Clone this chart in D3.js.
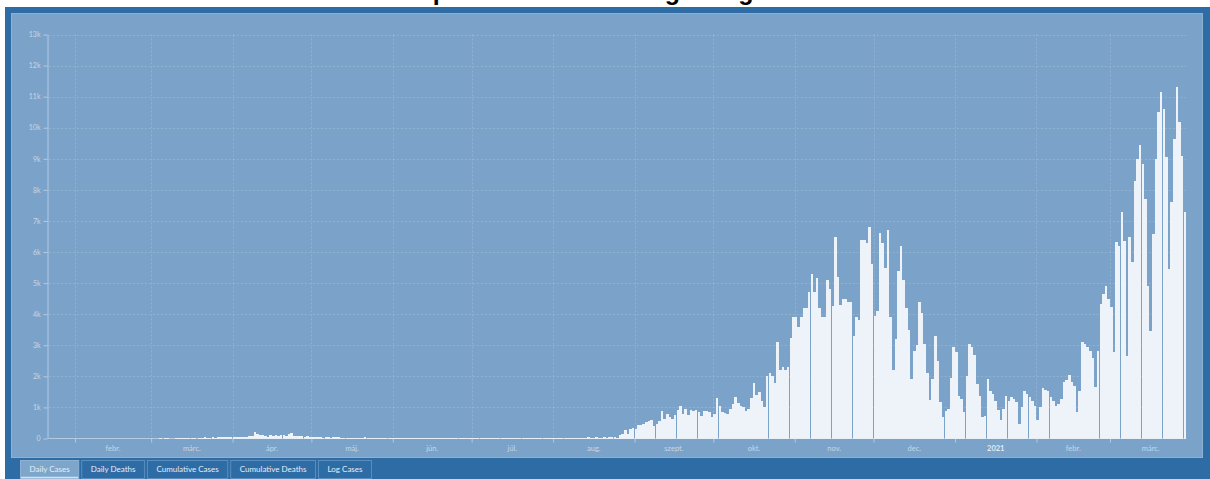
<!DOCTYPE html>
<html>
<head>
<meta charset="utf-8">
<script src="https://cdnjs.cloudflare.com/ajax/libs/d3/7.8.5/d3.min.js"></script>
<style>
body { margin: 0; background: #fff; overflow: hidden; }
</style>
</head>
<body>
<div id="chart"></div>
<script>
// daily new cases, one array per month (2020-01-22 .. 2021-03-29)
var cases2020Jan = [0, 0, 0, 0, 0, 0, 0, 0, 0, 0];
var cases2020Feb = [0, 0, 0, 0, 0, 0, 0, 0, 0, 0, 0, 0, 0, 0, 0, 0, 0, 0, 0, 0, 0, 0, 0, 0, 0, 0, 0, 0, 0];
var cases2020Mar = [0, 0, 0, 2, 0, 5, 2, 0, 0, 3, 1, 3, 6, 13, 2, 7, 11, 0, 11, 8, 35, 18, 12, 36, 20, 39, 35, 40, 43, 34, 45];
var cases2020Apr = [45, 55, 60, 45, 52, 40, 70, 75, 210, 160, 100, 110, 70, 60, 100, 75, 120, 90, 110, 105, 95, 140, 180, 95, 70, 75, 80, 60, 65, 55];
var cases2020May = [50, 40, 35, 45, 30, 40, 35, 30, 40, 35, 38, 25, 30, 22, 27, 30, 24, 28, 20, 26, 40, 24, 23, 22, 18, 15, 20, 18, 12, 15, 10];
var cases2020Jun = [8, 12, 6, 15, 10, 4, 5, 8, 10, 12, 7, 3, 6, 10, 5, 8, 9, 4, 3, 11, 6, 8, 10, 12, 5, 3, 4, 7, 6, 5];
var cases2020Jul = [4, 6, 10, 3, 8, 12, 14, 5, 10, 8, 6, 15, 18, 9, 12, 20, 8, 6, 10, 14, 13, 22, 9, 11, 14, 25, 17, 12, 10, 16, 18];
var cases2020Aug = [20, 14, 12, 25, 18, 22, 16, 30, 15, 26, 32, 20, 28, 35, 22, 18, 40, 30, 30, 45, 20, 35, 60, 50, 25, 100, 160, 270, 150, 290, 350];
var cases2020Sep = [300, 450, 440, 480, 520, 550, 580, 400, 480, 550, 900, 620, 780, 700, 620, 750, 920, 1040, 800, 950, 750, 920, 900, 930, 850, 720, 880, 900, 850, 700];
var cases2020Oct = [800, 1300, 1050, 850, 820, 780, 950, 1100, 1350, 1150, 1050, 1000, 900, 960, 1300, 1800, 1400, 1500, 1200, 1000, 2000, 2100, 2000, 1800, 3100, 2200, 2300, 2200, 2300, 3250, 3900];
var cases2020Nov = [3900, 3600, 3900, 4200, 4200, 4700, 5300, 4700, 5150, 4200, 3900, 3900, 5100, 4800, 4250, 6500, 5200, 4300, 4500, 4500, 4400, 4400, 3300, 3900, 3800, 6400, 6400, 6300, 6800, 5600];
var cases2020Dec = [3950, 4100, 6600, 6300, 5500, 6700, 3900, 2200, 3200, 5400, 6200, 5100, 4200, 3500, 1900, 2800, 3000, 4400, 4050, 3050, 2100, 1240, 1900, 3300, 2500, 1170, 690, 900, 950, 1950, 2960];
var cases2021Jan = [2780, 1380, 1270, 850, 2000, 3050, 2940, 2700, 1760, 1380, 690, 740, 1900, 1540, 1440, 1220, 920, 580, 950, 1380, 1220, 1330, 1280, 1170, 470, 1000, 1540, 1440, 1330, 1220, 1060];
var cases2021Feb = [580, 1000, 1630, 1570, 1520, 1350, 1220, 1060, 1100, 1280, 1810, 1870, 2030, 1810, 1700, 850, 1540, 3100, 3050, 2940, 2830, 2600, 1650, 2830, 4330, 4650, 4920, 4500];
var cases2021Mar = [4230, 2780, 6320, 6200, 7280, 6370, 2670, 6480, 5670, 8300, 9000, 9430, 8840, 7710, 4920, 3470, 6580, 9000, 10500, 11140, 10600, 9050, 5460, 7600, 9640, 11300, 10180, 9100, 7280];

var monthLabels = ["febr.", "márc.", "ápr.", "máj.", "jún.", "júl.", "aug.", "szept.", "okt.", "nov.", "dec.", "2021", "febr.", "márc."];
var yTicks = [0, 1000, 2000, 3000, 4000, 5000, 6000, 7000, 8000, 9000, 10000, 11000, 12000, 13000];
var tabNames = ["Daily Cases", "Daily Deaths", "Cumulative Cases", "Cumulative Deaths", "Log Cases"];
var title = "Epidemic curve now gaining";

var width = 1210, height = 479;
var svg = d3.select("#chart").append("svg")
	.attr("width", width)
	.attr("height", height);

// (title) only the descenders show above the frame
svg.append("text")
	.attr("x", 416)
	.attr("y", -0.5)
	.attr("font-family", "Liberation Sans, Arial, sans-serif")
	.attr("font-weight", "bold")
	.attr("font-size", "25px")
	.attr("fill", "#000")
	.text(title);

// (frame) dark outer box and lighter chart panel
svg.append("rect")
	.attr("x", 5).attr("y", 7)
	.attr("width", 1205).attr("height", 472)
	.attr("fill", "#2e6ca5");
svg.append("rect")
	.attr("x", 11.5).attr("y", 13.5)
	.attr("width", 1191).attr("height", 444)
	.attr("fill", "#7ba3c9")
	.attr("stroke", "#8db1d4");

// (data) join the months into one daily series
var daily = [].concat(cases2020Jan, cases2020Feb, cases2020Mar, cases2020Apr, cases2020May,
	cases2020Jun, cases2020Jul, cases2020Aug, cases2020Sep, cases2020Oct, cases2020Nov,
	cases2020Dec, cases2021Jan, cases2021Feb, cases2021Mar);
var start = new Date(Date.UTC(2020, 0, 22));
var data = daily.map(function(v, i) { return {date: d3.utcDay.offset(start, i), value: v}; });
var end = d3.utcDay.offset(start, data.length);

var x = d3.scaleUtc().domain([start, end]).range([48.7, 1186.2]);
var y = d3.scaleLinear().domain([0, 13000]).range([438.5, 34.5]);
var months = d3.utcMonth.range(d3.utcMonth.ceil(start), end);

// (grid) dashed lines
var grid = svg.append("g")
	.attr("stroke", "rgba(255,255,255,0.16)")
	.attr("stroke-dasharray", "2,2")
	.attr("stroke-width", 1);
grid.selectAll(".h")
	.data(yTicks.slice(1))
	.enter().append("line")
	.attr("x1", x.range()[0]).attr("x2", x.range()[1])
	.attr("y1", function(d) { return Math.round(y(d)) + 0.5; })
	.attr("y2", function(d) { return Math.round(y(d)) + 0.5; });
grid.selectAll(".v")
	.data(months)
	.enter().append("line")
	.attr("x1", function(d) { return Math.round(x(d)) + 0.5; })
	.attr("x2", function(d) { return Math.round(x(d)) + 0.5; })
	.attr("y1", y(13000)).attr("y2", y(0));

// (bars) daily cases
svg.append("g")
	.selectAll("rect")
	.data(data)
	.enter().append("rect")
	.attr("x", function(d) { return x(d.date); })
	.attr("width", function(d) { return x(d3.utcDay.offset(d.date, 1)) - x(d.date) - 0.1; })
	.attr("y", function(d) { return y(d.value); })
	.attr("height", function(d) { return y(0) - y(d.value); })
	.attr("fill", "#eef3f9")
	.attr("shape-rendering", "crispEdges");

// (axes)
var axisColor = "rgba(225,235,245,0.55)";
var yAxis = svg.append("g")
	.attr("transform", "translate(47.5,0)")
	.call(d3.axisLeft(y)
		.tickValues(yTicks)
		.tickSize(4)
		.tickSizeOuter(0)
		.tickFormat(function(d) { return d === 0 ? "0" : (d / 1000) + "k"; }));
var xAxis = svg.append("g")
	.attr("transform", "translate(0,438.5)")
	.call(d3.axisBottom(x)
		.tickValues(months)
		.tickSize(4)
		.tickSizeOuter(0)
		.tickFormat(""));
[yAxis, xAxis].forEach(function(a) {
	a.select(".domain").attr("stroke", axisColor);
	a.selectAll(".tick line").attr("stroke", axisColor);
});
yAxis.selectAll(".tick text")
	.attr("x", -7)
	.attr("fill", "rgba(230,238,247,0.7)")
	.attr("font-family", "Lato, sans-serif")
	.attr("font-size", "7px");
xAxis.select(".domain").attr("d", "M" + x.range()[0] + ",0H" + x.range()[1]);

// (month_labels) centred inside each month
svg.append("g")
	.selectAll("text")
	.data(months)
	.enter().append("text")
	.attr("x", function(d) { return (x(d) + x(d3.utcMonth.offset(d, 1))) / 2; })
	.attr("y", 451)
	.attr("text-anchor", "middle")
	.attr("font-family", "Lato, sans-serif")
	.attr("font-size", "7.5px")
	.attr("font-weight", function(d, i) { return monthLabels[i] === "2021" ? "bold" : "normal"; })
	.attr("fill", function(d, i) { return monthLabels[i] === "2021" ? "rgba(240,245,250,0.9)" : "rgba(230,238,247,0.7)"; })
	.text(function(d, i) { return monthLabels[i]; });

// (tabs) chart switcher along the bottom
var tabX = 20;
tabNames.forEach(function(name, i) {
	var g = svg.append("g");
	var t = g.append("text")
		.attr("y", 471.5)
		.attr("font-family", "Lato, sans-serif")
		.attr("font-size", "8px")
		.attr("fill", "#e6eef7")
		.text(name);
	var w = t.node().getComputedTextLength() + 18;
	g.insert("rect", "text")
		.attr("x", tabX + 0.5).attr("y", 460.5)
		.attr("width", w).attr("height", 18)
		.attr("fill", i === 0 ? "#7ea6cb" : "#2e6ca5")
		.attr("stroke", i === 0 ? "#8db1d4" : "#5a8ebf");
	if (i === 0) {
		g.append("line")
			.attr("x1", tabX + 1).attr("x2", tabX + w)
			.attr("y1", 477.5).attr("y2", 477.5)
			.attr("stroke", "#d4e3f1").attr("stroke-width", 1.5);
	}
	t.attr("x", tabX + 9.5);
	tabX += w + 3;
});
</script>
</body>
</html>
